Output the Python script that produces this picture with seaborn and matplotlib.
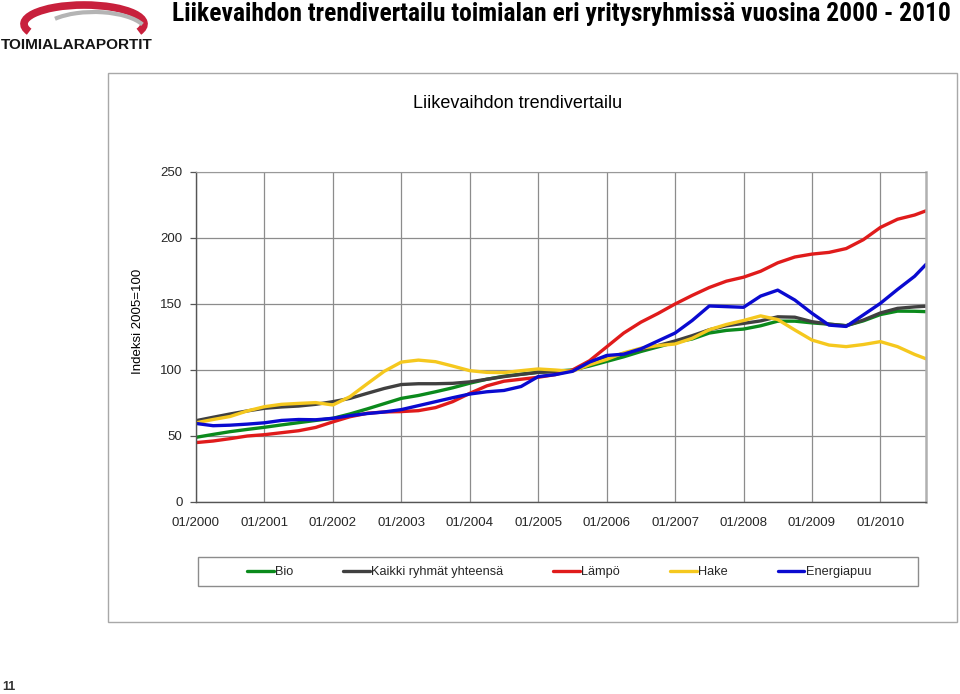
import numpy as np
import pandas as pd
import matplotlib
matplotlib.use("Agg")
import matplotlib.pyplot as plt
import seaborn as sns
from matplotlib import font_manager as fm
from matplotlib.patches import Rectangle, Arc

# ---------------- data ----------------
months = list(range(0, 127, 3)) + [128]          # months since 01/2000
tick_months = list(range(0, 121, 12))
tick_labels = ["01/2000", "01/2001", "01/2002", "01/2003", "01/2004", "01/2005",
               "01/2006", "01/2007", "01/2008", "01/2009", "01/2010"]
series_names = ["Bio", "Kaikki ryhmät yhteensä", "Lämpö", "Hake", "Energiapuu"]

bio = [49, 51.2, 53.3, 55, 56.6, 58.4, 60.1, 61.8, 63.4, 66.7, 70.5, 74.5, 78.5, 80.7,
       83.5, 86.5, 90, 93, 95.3, 96.8, 98.3, 99.2,
       100, 103, 106.5, 110, 114, 117.5, 121, 123.5, 128, 130, 131, 133.5, 137, 137,
       135.7, 134.7, 133.6, 137.2, 142, 144.6, 144.5, 144.2]
kaikki = [61.6, 64.2, 66.7, 69, 71, 72, 72.7, 74, 76, 78.5, 82.3, 86, 89, 89.6,
          89.6, 89.9, 91, 93, 95, 96.7, 98.2, 98.7,
          99.5, 104, 109, 112.5, 115.5, 118.5, 122, 126, 130.5, 133.5, 135.3, 137.2,
          140.3, 140, 136.6, 134.8, 133.5, 137.8, 143.2, 146.7, 147.8, 148.3]
lampo = [45, 46.2, 48, 50, 51, 52.5, 54, 56.5, 60.7, 64.6, 67.2, 68.2, 68.5, 69.2,
         71.5, 76, 82.3, 88, 91.5, 93, 94.5, 96.5,
         100, 107, 117.5, 128, 136.2, 142.8, 150, 156.5, 162.5, 167.3, 170.3, 174.8,
         181.2, 185.6, 187.8, 189.1, 192, 198.7, 208, 214.2, 217.4, 220.6]
hake = [60, 62.5, 64.8, 69, 72.2, 74, 74.7, 75.3, 73.5, 79.8, 89.5, 99, 106, 107.5,
        106.3, 103, 99.5, 98.2, 98, 99.5, 100.8, 100,
        99, 104, 108, 113, 116.5, 118.5, 119.7, 124, 130.5, 134.5, 137.5, 141, 138.2,
        130.3, 122.7, 118.9, 117.7, 119.3, 121.5, 117.7, 111.8, 108.5]
energiapuu = [59.5, 57.8, 58.2, 59, 60, 61.8, 62.5, 62.3, 63.4, 65.4, 67, 68.2, 70, 73,
              76, 79, 81.8, 83.5, 84.5, 87.5, 95, 96.5,
              99, 106, 111, 112, 116, 122, 128, 137.5, 148.5, 148, 147.5, 156, 160.5, 153,
              143, 134, 133, 141.7, 150.5, 161, 171, 180]

colors = {"Bio": "#0b8a1c", "Kaikki ryhmät yhteensä": "#404040", "Lämpö": "#e01b1b",
          "Hake": "#f5c81e", "Energiapuu": "#0a0ad0"}

values = [bio, kaikki, lampo, hake, energiapuu]
df = pd.concat([pd.DataFrame({"month": months, "value": v, "series": n})
                for n, v in zip(series_names, values)], ignore_index=True)

# ---------------- style ----------------
sns.set_style("white")
flist = fm.fontManager.ttflist
names = {f.name for f in flist}
BASE = "Liberation Sans" if "Liberation Sans" in names else "DejaVu Sans"

NARROW, STRETCH = None, "normal"
for c in ["Liberation Sans Narrow", "Arial Narrow", "Roboto Condensed",
          "Noto Sans Condensed", "Open Sans Condensed", "DejaVu Sans Condensed"]:
    if c in names:
        NARROW = c
        break
if NARROW is None:
    for fam in ["Liberation Sans", "Roboto", "Noto Sans", "Open Sans", "DejaVu Sans"]:
        if any(f.name == fam and f.stretch in ("condensed", "semi-condensed")
               for f in flist):
            NARROW, STRETCH = fam, "condensed"
            break
if NARROW is None:
    NARROW = BASE
plt.rcParams["font.family"] = [BASE, "DejaVu Sans"]

W, H = 960, 694
fig = plt.figure(figsize=(W / 100, H / 100), dpi=100)
fig.patch.set_facecolor("white")

# overlay in pixel coordinates for frame, logo and titles
ov = fig.add_axes([0, 0, 1, 1], zorder=0)
ov.set_xlim(0, W)
ov.set_ylim(H, 0)
ov.axis("off")
ov.add_patch(Rectangle((108, 73), 849, 549, fill=False, edgecolor="#a8a8a8", lw=1.0))
ov.add_patch(Rectangle((198, 557), 720, 29, fill=False, edgecolor="#8c8c8c", lw=1.0))

# logo
ov.add_patch(Arc((84, 24), 120, 38, theta1=172, theta2=368, color="#c8203c", lw=5.5))
ov.add_patch(Arc((94, 33), 106, 42, theta1=200, theta2=350, color="#b4b4b4", lw=3.0))
logo = ov.text(1, 45, "TOIMIALARAPORTIT", fontsize=11, fontweight="bold",
               color="#151515", va="center", ha="left")
title = ov.text(172, 14, "Liikevaihdon trendivertailu toimialan eri yritysryhmissä vuosina 2000 - 2010",
                fontsize=15, fontweight="bold", family=[NARROW, "DejaVu Sans"],
                fontstretch=STRETCH, va="center", ha="left", color="black")
ctitle = ov.text(517.5, 103, "Liikevaihdon trendivertailu", fontsize=11, va="center",
                 ha="center", color="black")
ov.text(138, 321, "Indeksi 2005=100", rotation=90, fontsize=9.5, va="center",
        ha="center", color="black")
ov.text(2, 687, "11", fontsize=9, fontweight="bold", color="#333333", va="center", ha="left")

# main axes
ax = fig.add_axes([196 / W, 1 - 502 / H, 730 / W, 330 / H], zorder=2)
ax.set_facecolor("none")
sns.lineplot(data=df, x="month", y="value", hue="series", hue_order=series_names,
             palette=colors, linewidth=2.4, errorbar=None, ax=ax, legend=True)
handles, labels = ax.get_legend_handles_labels()
ax.get_legend().remove()
for ln in ax.get_lines():
    ln.set_solid_joinstyle("round")
    ln.set_solid_capstyle("round")

ax.set_xlim(0, 128)
ax.set_ylim(0, 250)
ax.set_xticks(tick_months)
ax.set_xticklabels(tick_labels)
ax.set_yticks(range(0, 251, 50))
ax.set_xlabel("")
ax.set_ylabel("")
ax.grid(True, color="#8c8c8c", lw=0.9)
ax.set_axisbelow(True)
for s in ["left", "bottom"]:
    ax.spines[s].set_color("#555555")
    ax.spines[s].set_linewidth(1.0)
ax.spines["top"].set_color("#999999")
ax.spines["right"].set_color("#b0b0b0")
ax.spines["right"].set_linewidth(1.8)
ax.tick_params(axis="y", direction="out", length=4.3, width=0.9, color="#555555",
               labelsize=9.5, pad=5.5, left=True)
ax.tick_params(axis="x", length=0, labelsize=9.5, pad=10.5)

for h in handles:
    h.set_linewidth(2.4)
fig.legend(handles, labels, loc="center", bbox_to_anchor=(559 / W, 1 - 572 / H),
           ncol=5, frameon=False, fontsize=9.2, handlelength=2.1, handletextpad=0.1,
           columnspacing=3.9)

# fit text widths to the reference
fig.canvas.draw()
r = fig.canvas.get_renderer()
for t, target in [(logo, 152), (title, 778), (ctitle, 208)]:
    w = t.get_window_extent(r).width
    t.set_fontsize(t.get_fontsize() * target / w)

fig.savefig("out.png", dpi=100, facecolor="white")
